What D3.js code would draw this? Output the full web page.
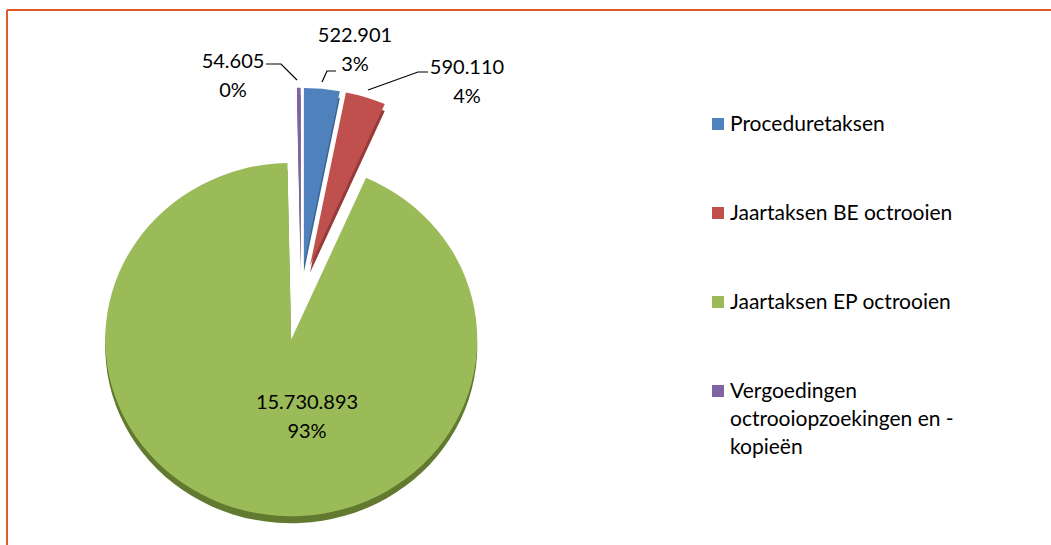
<!DOCTYPE html>
<html>
<head>
<meta charset="utf-8">
<script src="https://cdn.jsdelivr.net/npm/d3@7"></script>
<style>
  body { margin: 0; background: #fff; }
  svg { display: block; font-family: Lato, "Open Sans", sans-serif; }
</style>
</head>
<body>
<svg id="chart" width="1051" height="545"></svg>
<script>
// data
const categories = ["Proceduretaksen", "Jaartaksen BE octrooien", "Jaartaksen EP octrooien", "Vergoedingen octrooiopzoekingen en - kopieën"];
const values = [522901, 590110, 15730893, 54605];
const valueLabels = ["522.901", "590.110", "15.730.893", "54.605"];
const percentLabels = ["3%", "4%", "93%", "0%"];
const colors = ["#4F81BD", "#C0504D", "#9BBB59", "#8064A2"];
const darkColors = ["#3A6290", "#953B39", "#617A30", "#5E4A7A"];
const legendLines = [["Proceduretaksen"], ["Jaartaksen BE octrooien"], ["Jaartaksen EP octrooien"], ["Vergoedingen", "octrooiopzoekingen en -", "kopieën"]];

const svg = d3.select("#chart");

// frame (top and left edge)
svg.append("line").attr("x1", 7).attr("y1", 10).attr("x2", 1051).attr("y2", 10)
  .attr("stroke", "#E2592A").attr("stroke-width", 2);
svg.append("line").attr("x1", 7).attr("y1", 10).attr("x2", 7).attr("y2", 545)
  .attr("stroke", "#E2592A").attr("stroke-width", 2);

const cx = 301, cy = 293, r = 186, squash = 0.95, depth = 7;
const explode = [30, 30, 50, 30];

const pie = d3.pie().sort(null).value(d => d);
const arcs = pie(values);
const arc = d3.arc().innerRadius(0).outerRadius(r);

function offset(d, i) {
  const a = (d.startAngle + d.endAngle) / 2;
  return [Math.sin(a) * explode[i], -Math.cos(a) * explode[i]];
}

// side (3d edge) layer
const sideLayer = svg.append("g").attr("transform", `translate(${cx},${cy + depth}) scale(1,${squash})`);
sideLayer.selectAll("path").data(arcs).enter().append("path")
  .attr("transform", (d, i) => `translate(${offset(d, i)})`)
  .attr("d", arc)
  .attr("fill", (d, i) => darkColors[i]);

const topLayer = svg.append("g").attr("transform", `translate(${cx},${cy}) scale(1,${squash})`);
topLayer.selectAll("path").data(arcs).enter().append("path")
  .attr("transform", (d, i) => `translate(${offset(d, i)})`)
  .attr("d", arc)
  .attr("fill", (d, i) => colors[i]);

// labels
const labelPos = [
  { x: 355, y: 42, anchor: "middle" },
  { x: 467, y: 74, anchor: "middle" },
  { x: 307, y: 409, anchor: "middle" },
  { x: 233, y: 68, anchor: "middle" }
];
const leaders = [
  [[336, 71], [327, 71], [322, 82]],
  [[428, 72], [418, 72], [368, 90]],
  null,
  [[266, 64], [281, 64], [297, 80]]
];

const lineGen = d3.line();
leaders.forEach(function(pts) {
  if (!pts) return;
  svg.append("path").attr("d", lineGen(pts))
    .attr("fill", "none").attr("stroke", "#000").attr("stroke-width", 1.2);
});

labelPos.forEach(function(p, i) {
  const t = svg.append("text")
    .attr("x", p.x).attr("y", p.y)
    .attr("text-anchor", p.anchor)
    .attr("font-size", 20)
    .attr("fill", "#000");
  t.append("tspan").attr("x", p.x).text(valueLabels[i]);
  t.append("tspan").attr("x", p.x).attr("dy", 29).text(percentLabels[i]);
});

// legend
const legendY = [124, 213, 302, 391];
const legend = svg.append("g");
legendLines.forEach(function(lines, i) {
  legend.append("rect")
    .attr("x", 712).attr("y", legendY[i] - 6)
    .attr("width", 12).attr("height", 12)
    .attr("fill", colors[i]);
  lines.forEach(function(l, j) {
    legend.append("text")
      .attr("x", 730).attr("y", legendY[i] + j * 28)
      .attr("dy", "0.35em")
      .attr("font-size", 21)
      .attr("fill", "#000")
      .text(l);
  });
});
</script>
</body>
</html>
